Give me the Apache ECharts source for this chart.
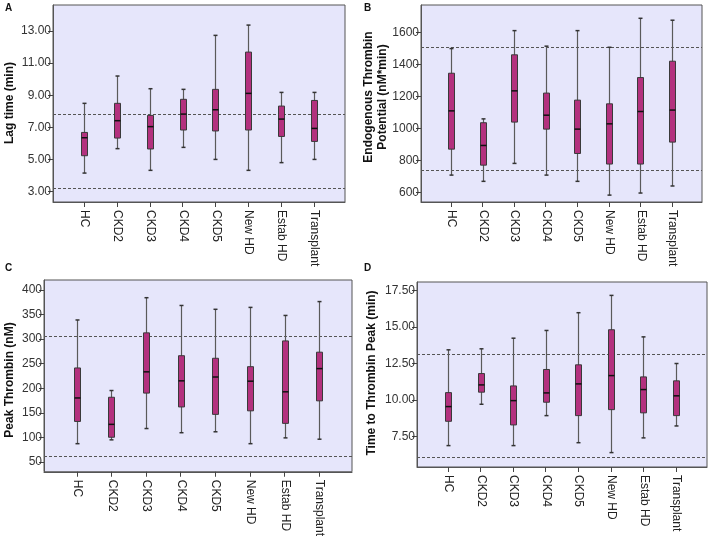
<!DOCTYPE html>
<html><head><meta charset="utf-8">
<script src="https://cdn.jsdelivr.net/npm/echarts@6/dist/echarts.min.js"></script>
<style>html,body{margin:0;padding:0;background:#fff}#c{width:709px;height:539px}</style>
</head><body><div id="c"></div>
<script>
const categories = ['HC','CKD2','CKD3','CKD4','CKD5','New HD','Estab HD','Transplant'];

// Panel A: Lag time (min)
const lagMin = [4.16, 5.68, 4.33, 5.76, 5.01, 4.33, 4.81, 5.01];
const lagQ1  = [5.24, 6.34, 5.66, 6.84, 6.78, 6.84, 6.44, 6.13];
const lagMed = [6.36, 7.42, 7.05, 7.83, 8.10, 9.12, 7.52, 6.94];
const lagQ3  = [6.69, 8.50, 7.75, 8.75, 9.37, 11.69, 8.33, 8.68];
const lagMax = [8.50, 10.20, 9.41, 9.37, 12.73, 13.37, 9.18, 9.18];
const lagRef = [7.81, 3.21];
const lagTicks = [3, 5, 7, 9, 11, 13];

// Panel B: Endogenous Thrombin Potential (nM*min)
const etpMin = [708, 669, 781, 708, 669, 583, 596, 640];
const etpQ1  = [870, 770, 1039, 995, 843, 777, 777, 914];
const etpMed = [1109, 893, 1234, 1082, 995, 1028, 1105, 1114];
const etpQ3  = [1344, 1035, 1459, 1220, 1176, 1153, 1317, 1419];
const etpMax = [1498, 1059, 1610, 1513, 1610, 1506, 1687, 1675];
const etpRef = [1504, 739];
const etpTicks = [600, 800, 1000, 1200, 1400, 1600];

// Panel C: Peak Thrombin (nM)
const peakMin = [87.4, 95.2, 118.2, 109.7, 111.6, 87.4, 99.2, 96.5];
const peakQ1  = [132.6, 100.5, 190.3, 162.1, 147.0, 154.2, 128.7, 174.5];
const peakMed = [180.4, 126.7, 233.5, 215.2, 223.0, 214.5, 192.9, 240.1];
const peakQ3  = [241.4, 181.8, 312.8, 266.3, 261.1, 244.0, 296.4, 273.5];
const peakMax = [339.0, 195.5, 384.3, 368.5, 360.7, 364.6, 348.2, 376.4];
const peakRef = [306.3, 61.2];
const peakTicks = [50, 100, 150, 200, 250, 300, 350, 400];

// Panel D: Time to Thrombin Peak (min)
const ttpMin = [6.86, 9.70, 6.86, 8.92, 7.06, 6.38, 7.39, 8.21];
const ttpQ1  = [8.53, 10.53, 8.28, 9.84, 8.92, 9.33, 9.11, 8.92];
const ttpMed = [9.54, 11.03, 9.95, 10.48, 11.10, 11.67, 10.71, 10.28];
const ttpQ3  = [10.50, 11.81, 10.96, 12.09, 12.41, 14.82, 11.58, 11.31];
const ttpMax = [13.44, 13.51, 14.24, 14.77, 15.99, 17.18, 14.33, 12.50];
const ttpRef = [13.12, 6.03];
const ttpTicks = [7.5, 10, 12.5, 15, 17.5];

const FONT = 'Liberation Sans, Arial, sans-serif';
const panels = [
  {letter:'A', title:['Lag time (min)'], mins:lagMin, q1:lagQ1, med:lagMed, q3:lagQ3, maxs:lagMax, ref:lagRef, ticks:lagTicks, dec:2,
   grid:{left:53, top:5, width:292, height:197}, yr:[2.36, 14.62], letterPos:[5,3], titlePos:[10,103]},
  {letter:'B', title:['Endogenous Thrombin','Potential (nM*min)'], mins:etpMin, q1:etpQ1, med:etpMed, q3:etpQ3, maxs:etpMax, ref:etpRef, ticks:etpTicks, dec:0,
   grid:{left:421, top:5, width:281, height:197}, yr:[540, 1770], letterPos:[364,3], titlePos:[376,97]},
  {letter:'C', title:['Peak Thrombin (nM)'], mins:peakMin, q1:peakQ1, med:peakMed, q3:peakQ3, maxs:peakMax, ref:peakRef, ticks:peakTicks, dec:0,
   grid:{left:44, top:280, width:308, height:198}, yr:[30.3, 420.3], letterPos:[5,263], titlePos:[10,380]},
  {letter:'D', title:['Time to Thrombin Peak (min)'], mins:ttpMin, q1:ttpQ1, med:ttpMed, q3:ttpQ3, maxs:ttpMax, ref:ttpRef, ticks:ttpTicks, dec:2,
   grid:{left:417, top:282, width:290, height:185}, yr:[5.39, 18.1], letterPos:[364,263], titlePos:[372,373]}
];

const grids = [], xAxes = [], yAxes = [], series = [], graphics = [];
const catIdx = categories.map((c, i) => i);

function renderBox(params, api) {
  const x = api.value(0);
  const lo = api.coord([x, api.value(1)]);
  const q1 = api.coord([x, api.value(2)]);
  const md = api.coord([x, api.value(3)]);
  const q3 = api.coord([x, api.value(4)]);
  const hi = api.coord([x, api.value(5)]);
  const cx = Math.round(lo[0]) + 0.5;
  const bw = 6, cw = 3;
  const wStyle = {stroke:'#5a5a5a', lineWidth:1.2};
  return {type:'group', children:[
    {type:'line', shape:{x1:cx, y1:lo[1], x2:cx, y2:hi[1]}, style:wStyle},
    {type:'line', shape:{x1:cx-cw/2-0.5, y1:lo[1], x2:cx+cw/2+0.5, y2:lo[1]}, style:{stroke:'#333', lineWidth:1.5}},
    {type:'line', shape:{x1:cx-cw/2-0.5, y1:hi[1], x2:cx+cw/2+0.5, y2:hi[1]}, style:{stroke:'#333', lineWidth:1.5}},
    {type:'rect', shape:{x:cx-bw/2, y:q3[1], width:bw, height:q1[1]-q3[1]}, style:{fill:'#B3317E', stroke:'#3a3a3a', lineWidth:1}},
    {type:'line', shape:{x1:cx-bw/2, y1:md[1], x2:cx+bw/2, y2:md[1]}, style:{stroke:'#111', lineWidth:1.5}}
  ]};
}

panels.forEach((p, i) => {
  grids.push(Object.assign({show:true, backgroundColor:'#E6E6FB', borderColor:'#555', borderWidth:1}, p.grid));
  xAxes.push({type:'value', gridIndex:i, min:-0.95, max:7.95, splitLine:{show:false},
    axisLine:{show:true, onZero:false, lineStyle:{color:'#555'}},
    axisTick:{show:true, length:5, lineStyle:{color:'#444'}, customValues:catIdx},
    axisLabel:{show:true, customValues:catIdx, rotate:-90, margin:8, color:'#222', fontSize:12, fontFamily:FONT,
      verticalAlign:'bottom', align:'left', lineHeight:1,
      formatter: v => categories[Math.round(v)]}
  });
  yAxes.push({type:'value', gridIndex:i, min:p.yr[0], max:p.yr[1], splitLine:{show:false},
    axisLine:{show:true, onZero:false, lineStyle:{color:'#555'}},
    axisTick:{show:true, length:5, lineStyle:{color:'#444'}, customValues:p.ticks},
    axisLabel:{show:true, customValues:p.ticks, margin:2, color:'#333', fontSize:12, fontFamily:FONT,
      formatter: v => v.toFixed(p.dec)}
  });
  const data = categories.map((c, k) => [k, p.mins[k], p.q1[k], p.med[k], p.q3[k], p.maxs[k]]);
  series.push({type:'custom', xAxisIndex:i, yAxisIndex:i, renderItem:renderBox, data:data, clip:false,
    encode:{x:0, y:[1,2,3,4,5]}, z:3,
    markLine:{silent:true, symbol:'none', label:{show:false}, z:2,
      lineStyle:{type:[3,2], color:'#555', width:1},
      data:p.ref.map(v => ({yAxis:v}))}
  });
  graphics.push({type:'text', left:p.letterPos[0], top:p.letterPos[1],
    style:{text:p.letter, font:'bold 10px ' + FONT, fill:'#111'}});
  graphics.push({type:'text', x:p.titlePos[0], y:p.titlePos[1], rotation:Math.PI/2,
    style:{text:p.title.join('\n'), font:'bold 12px ' + FONT, fill:'#111', align:'center', verticalAlign:'middle', lineHeight:14}});
});

const chart = echarts.init(document.getElementById('c'), null, {renderer:'canvas'});
chart.setOption({animation:false, grid:grids, xAxis:xAxes, yAxis:yAxes, series:series, graphic:graphics});
</script></body></html>
